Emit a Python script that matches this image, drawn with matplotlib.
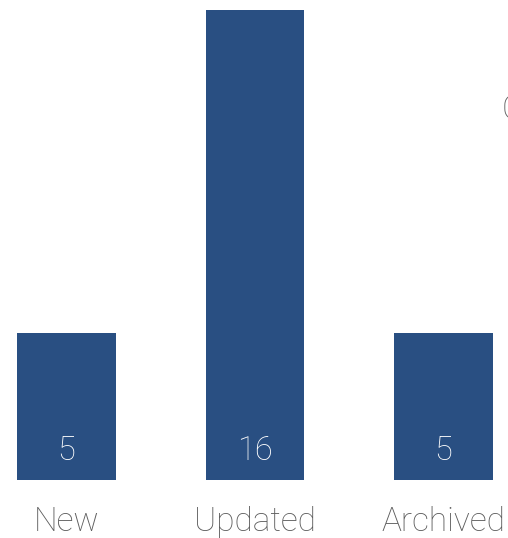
import matplotlib
matplotlib.use("Agg")
import matplotlib.pyplot as plt

# Record counts per change type
categories = ["New", "Updated", "Archived"]
counts = [5, 16, 5]

BAR_COLOR = "#294f82"
TEXT_COLOR = "#5c5c5c"

plt.rcParams["font.family"] = ["Roboto", "DejaVu Sans"]

fig = plt.figure(figsize=(5.08, 5.38), dpi=100)
ax = fig.add_axes([0, 58 / 538, 1, 480 / 538])

x = list(range(len(categories)))
bars = ax.bar(x, counts, width=0.525, color=BAR_COLOR)

ax.set_xlim(-66.5 / 188.5, (508 - 66.5) / 188.5)
ax.set_ylim(0, 480 / 29.4)
ax.axis("off")

# value inside the bar near its base, category name underneath
for xi, val, name in zip(x, counts, categories):
    ax.text(xi, 0.98, str(val), ha="center", va="center",
            color="white", fontsize=23.5, fontweight="light")
    ax.text(xi, -1.43, name, ha="center", va="center",
            color=TEXT_COLOR, fontsize=24, fontweight="light", clip_on=False)

# side caption running off the right edge
fig.text(502 / 508, 1 - 110 / 538, "C", ha="left", va="center",
         color=TEXT_COLOR, fontsize=24, fontweight="light")

fig.savefig("out.png", dpi=100)
